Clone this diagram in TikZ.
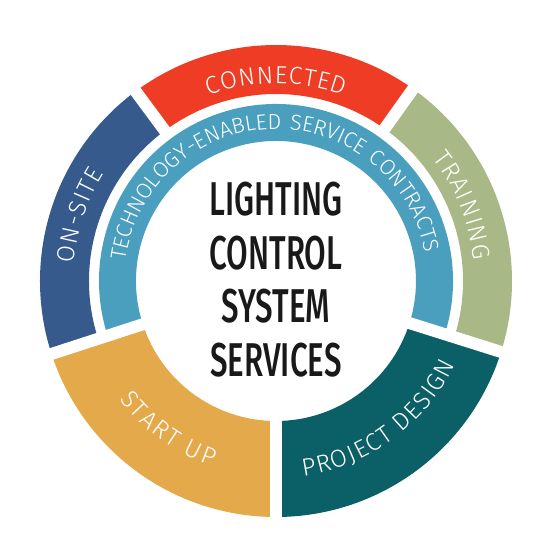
\documentclass[tikz,border=0pt]{standalone}
\usepackage{fontspec}
\usetikzlibrary{decorations.text}
\newfontfamily\ringfont{Fira Sans Light}
\newfontfamily\innerfont{Fira Sans Light}[LetterSpace=9]
\newfontfamily\titlefont{Fira Sans Medium}[FakeStretch=0.66]
\definecolor{onsite}{HTML}{365A8C}
\definecolor{connected}{HTML}{EE3D24}
\definecolor{training}{HTML}{A8B886}
\definecolor{design}{HTML}{0B6068}
\definecolor{startup}{HTML}{E3A94B}
\definecolor{contract}{HTML}{4A9FBE}
% one piece of a ring: colour, start angle, end angle, inner radius, outer radius
\newcommand\ringpart[5]{\fill[#1] (#2:#5) arc[start angle=#2, end angle=#3, radius=#5] -- (#3:#4) arc[start angle=#3, end angle=#2, radius=#4] -- cycle;}
\tikzset{
gap/.style={white, line width=0.24cm}, % white cut between two pieces
ringlabel/.style={decorate, decoration={text along path, text align=fit to path,
  text={|\ringfont\fontsize{14}{16}\selectfont\color{white}|#1}}}, % outer labels
innerlabel/.style={decorate, decoration={text along path, text align=center,
  text={|\innerfont\fontsize{12.4}{14}\selectfont\color{white}|#1}}}, % inner ring label
title/.style={align=center, inner sep=0pt, text=black!90,
  font=\titlefont\fontsize{27}{30.4}\selectfont},
}

\begin{document}
\begin{tikzpicture}
\useasboundingbox (-5.52,-5.38) rectangle (5.48,5.62);
% outer ring
\ringpart{connected}{54.5}{126.5}{3.74}{4.72}
\ringpart{onsite}{126.5}{198}{3.74}{4.72}
\ringpart{training}{-17.5}{54.5}{3.74}{4.72}
\ringpart{startup}{198}{270}{2.8}{4.72}
\ringpart{design}{270}{342.5}{2.8}{4.72}
% inner ring
\ringpart{contract}{-17.5}{198}{2.8}{3.54}
\foreach \a in {198,270,342.5}
  \draw[gap] (\a:2.7) -- (\a:4.8);
\foreach \a in {54.5,126.5}
  \draw[gap] (\a:3.6) -- (\a:4.8);
% labels
\path[ringlabel=CONNECTED] (110:3.95) arc[start angle=110, end angle=70, radius=3.95];
\path[ringlabel=ON-SITE] (175:4.06) arc[start angle=175, end angle=148, radius=4.06];
\path[ringlabel=TRAINING] (38:3.98) arc[start angle=38, end angle=6, radius=3.98];
\path[ringlabel=START UP] (217:3.92) arc[start angle=217, end angle=251, radius=3.92];
\path[ringlabel=PROJECT DESIGN] (278:3.94) arc[start angle=278, end angle=335, radius=3.94];
\path[innerlabel=TECHNOLOGY-ENABLED SERVICE CONTRACTS] (205:3.04) arc[start angle=205, end angle=-22, radius=3.04];
\node[title] (title) at (0,0.03) {LIGHTING\\CONTROL\\SYSTEM\\SERVICES};
\end{tikzpicture}
\end{document}
